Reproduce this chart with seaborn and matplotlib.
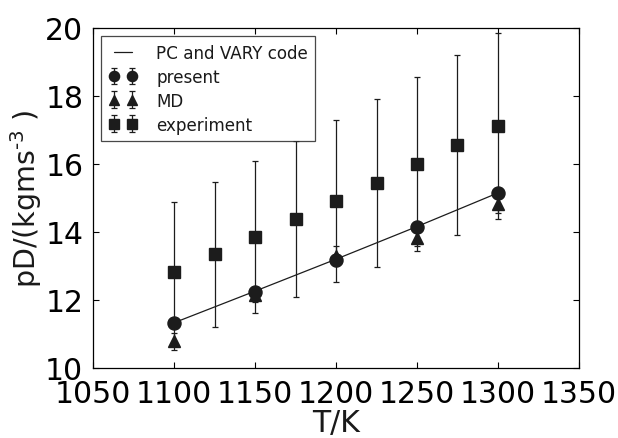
import numpy as np
import pandas as pd
import matplotlib
matplotlib.use("Agg")
import matplotlib.pyplot as plt
import seaborn as sns

# ---- data ----
T_line = [1100, 1150, 1200, 1250, 1300]
pc_vary = [11.33, 12.26, 13.20, 14.16, 15.15]

T_present = [1100, 1150, 1200, 1250, 1300]
present = [11.32, 12.24, 13.18, 14.15, 15.15]
present_err = [0.0, 0.0, 0.0, 0.0, 0.0]

T_md = [1100, 1150, 1200, 1250, 1300]
md = [10.78, 12.15, 13.30, 13.82, 14.82]
md_err = [0.24, 0.22, 0.30, 0.23, 0.26]

T_exp = [1100, 1125, 1150, 1175, 1200, 1225, 1250, 1275, 1300]
experiment = [12.82, 13.35, 13.85, 14.38, 14.91, 15.44, 16.00, 16.55, 17.12]
exp_err = [2.06, 2.13, 2.24, 2.29, 2.38, 2.47, 2.56, 2.65, 2.73]

x_ticks = [1050, 1100, 1150, 1200, 1250, 1300, 1350]
y_ticks = [10, 12, 14, 16, 18, 20]

sns.set_style("ticks")
plt.rcParams['font.family'] = ['DejaVu Sans']
plt.rcParams.update({
    'xtick.direction': 'in', 'ytick.direction': 'in',
    'xtick.top': True, 'ytick.right': True,
    'xtick.major.size': 4.3, 'ytick.major.size': 4.3,
    'xtick.major.width': 0.8, 'ytick.major.width': 0.8,
    'xtick.major.pad': 8, 'ytick.major.pad': 7,
    'axes.linewidth': 0.9, 'axes.edgecolor': 'black',
    'xtick.color': 'black', 'ytick.color': 'black',
    'text.color': '#1a1a1a', 'axes.labelcolor': '#1a1a1a',
})

fig = plt.figure(figsize=(6.18, 4.39), dpi=100)
ax = fig.add_axes([93/618, 1-369/439, (579-93)/618, (369-29)/439])

col = '#1c1c1c'
df_line = pd.DataFrame({'T': T_line, 'v': pc_vary})
sns.lineplot(data=df_line, x='T', y='v', ax=ax, color=col, lw=0.9,
             label='PC and VARY code')

eb_kw = dict(ls='none', color=col, ecolor=col, elinewidth=0.9,
             capsize=2.5, capthick=0.9, mec=col, mfc=col)
ax.errorbar(T_present, present, yerr=present_err, marker='o', ms=9.4,
            label='present', **eb_kw)
ax.errorbar(T_md, md, yerr=md_err, marker='^', ms=8.8,
            label='MD', **eb_kw)
ax.errorbar(T_exp, experiment, yerr=exp_err, marker='s', ms=8.4,
            label='experiment', **eb_kw)

ax.set_xlim(1050, 1350)
ax.set_ylim(10, 20)
ax.set_xticks(x_ticks)
ax.set_yticks(y_ticks)
ax.tick_params(labelsize=21.5)
ax.set_xlabel('T/K', fontsize=21.5, labelpad=0)
ax.set_ylabel(r'pD/(kgms$^{\text{-}3}$ )', fontsize=20.5, labelpad=1)

leg = ax.legend(loc='upper left', fontsize=12.1, numpoints=2,
                handlelength=1.7, handletextpad=1.1, labelspacing=0.35,
                borderpad=0.45, markerscale=0.78, fancybox=False,
                frameon=True, borderaxespad=0.5)
leg.get_frame().set_edgecolor('#1a1a1a')
leg.get_frame().set_linewidth(0.9)

fig.savefig('out.png', dpi=100)
